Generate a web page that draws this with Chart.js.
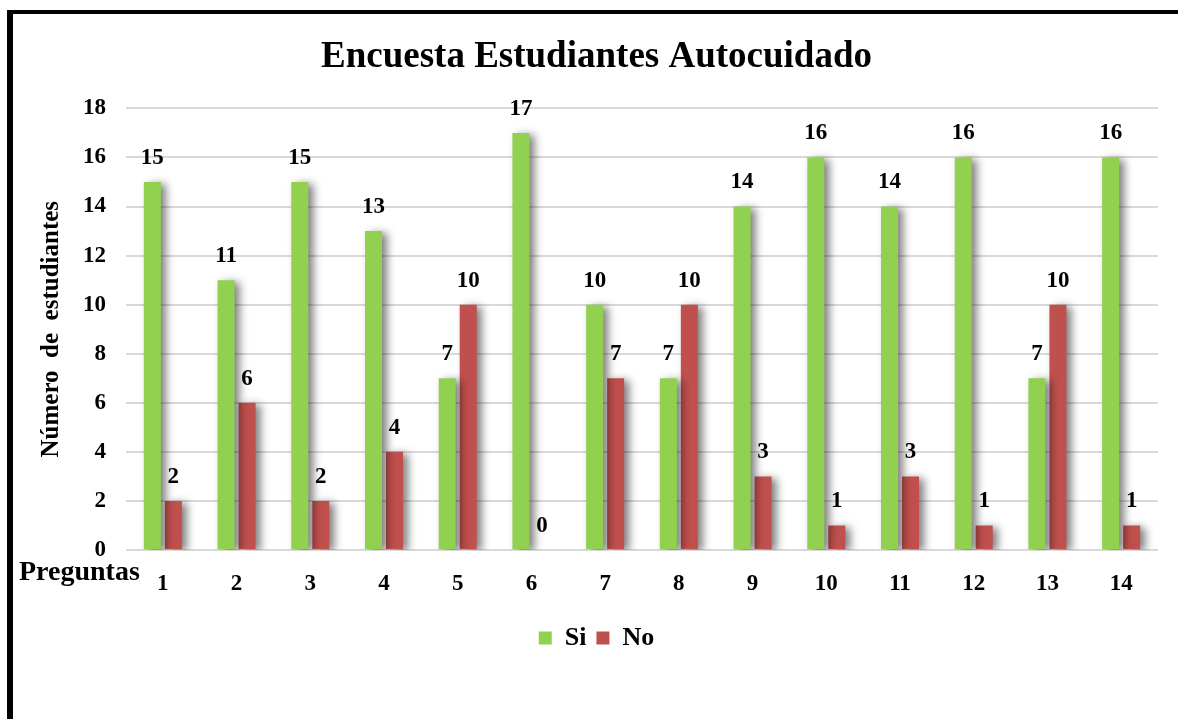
<!DOCTYPE html>
<html>
<head>
<meta charset="utf-8">
<script src="https://cdn.jsdelivr.net/npm/chart.js@4/dist/chart.umd.min.js"></script>
<style>
    html, body { margin: 0; padding: 0; background: #fff; overflow: hidden; }
    #frame {
        position: absolute; left: 7px; top: 10px;
        width: 2000px; height: 2000px;
        border-left: 6px solid #000; border-top: 4px solid #000;
    }
    #wrap { position: absolute; left: 0; top: 0; width: 1178px; height: 719px; }
</style>
</head>
<body>
<div id="frame"></div>
<div id="wrap"><canvas id="surveyChart"></canvas></div>
<script>
// Survey data
const preguntas = ['1', '2', '3', '4', '5', '6', '7', '8', '9', '10', '11', '12', '13', '14'];
const siValues = [15, 11, 15, 13, 7, 17, 10, 7, 14, 16, 14, 16, 7, 16];
const noValues = [2, 6, 2, 4, 10, 0, 7, 10, 3, 1, 3, 1, 10, 1];
const yTicks = [0, 2, 4, 6, 8, 10, 12, 14, 16, 18];

const FONT = '"Liberation Serif", "Times New Roman", serif';

// Soft shadow behind the bars
const barShadow = {
    id: 'barShadow',
    beforeDatasetsDraw(chart) {
        const ctx = chart.ctx;
        ctx.save();
        ctx.shadowColor = 'rgba(0,0,0,0.5)';
        ctx.shadowBlur = 8;
        ctx.shadowOffsetX = 5;
        ctx.shadowOffsetY = 2;
    },
    afterDatasetsDraw(chart) {
        chart.ctx.restore();
    }
};

// Value labels above bars + "Preguntas" label
const valueLabels = {
    id: 'valueLabels',
    afterDraw(chart) {
        const ctx = chart.ctx;
        ctx.save();
        ctx.fillStyle = '#000';
        ctx.font = 'bold 23px ' + FONT;
        ctx.textAlign = 'center';
        ctx.textBaseline = 'middle';
        chart.data.datasets.forEach((ds, i) => {
            chart.getDatasetMeta(i).data.forEach((bar, j) => {
                ctx.fillText(String(ds.data[j]), bar.x, bar.y - 24);
            });
        });
        ctx.font = 'bold 28px ' + FONT;
        ctx.textAlign = 'left';
        ctx.fillText('Preguntas', 19, 573);
        ctx.restore();
    }
};

new Chart(document.getElementById('surveyChart'), {
    type: 'bar',
    data: {
        labels: preguntas,
        datasets: [{
            label: 'Si',
            data: siValues,
            backgroundColor: '#92D050'
        }, {
            label: 'No',
            data: noValues,
            backgroundColor: '#C0504D'
        }]
    },
    options: {
        responsive: true,
        maintainAspectRatio: false,
        animation: false,
        categoryPercentage: 0.57,
        barPercentage: 0.81,
        layout: {
            padding: { left: 35, right: 20, top: 0, bottom: 58 }
        },
        scales: {
            x: {
                grid: { display: false },
                border: { display: false },
                ticks: {
                    color: '#000',
                    padding: 12,
                    font: { family: FONT, size: 23, weight: 'bold' }
                },
                afterFit: (scale) => { scale.height = 65; }
            },
            y: {
                min: 0,
                max: 18,
                afterBuildTicks: (scale) => {
                    scale.ticks = yTicks.map(v => ({ value: v }));
                },
                grid: { color: '#d9d9d9', lineWidth: 2, drawTicks: false },
                border: { display: false },
                ticks: {
                    color: '#000',
                    padding: 20,
                    font: { family: FONT, size: 23, weight: 'bold' }
                },
                title: {
                    display: true,
                    text: 'Número  de  estudiantes',
                    color: '#000',
                    padding: { top: 2, bottom: 4 },
                    font: { family: FONT, size: 25, weight: 'bold' }
                },
                afterFit: (scale) => { scale.width = 91; }
            }
        },
        plugins: {
            title: {
                display: true,
                text: 'Encuesta Estudiantes Autocuidado',
                color: '#000',
                padding: { top: 35, bottom: 29 },
                font: { family: FONT, size: 37, weight: 'bold' }
            },
            legend: {
                position: 'bottom',
                labels: {
                    color: '#000',
                    boxWidth: 13,
                    boxHeight: 13,
                    padding: 10,
                    font: { family: FONT, size: 26, weight: 'bold' }
                }
            },
            tooltip: { enabled: false }
        }
    },
    plugins: [barShadow, valueLabels]
});
</script>
</body>
</html>
